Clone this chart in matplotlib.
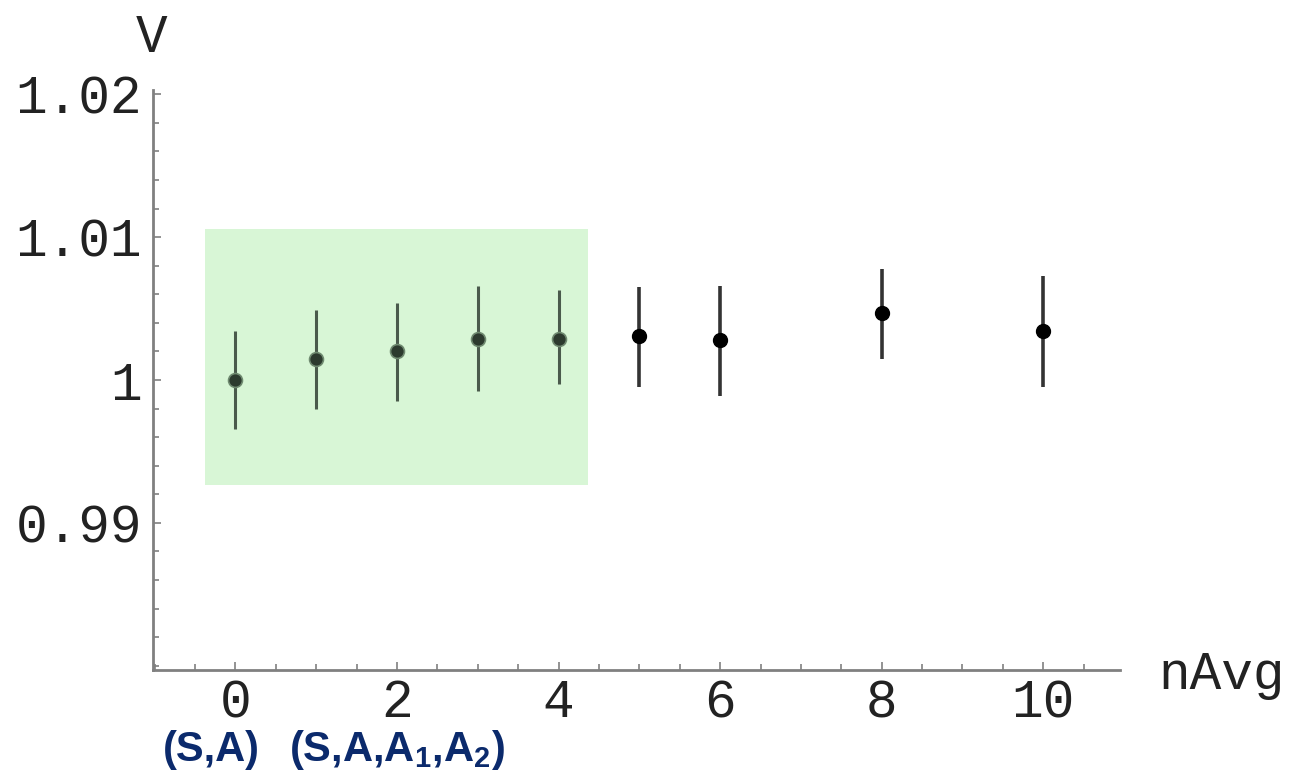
import matplotlib.pyplot as plt
import matplotlib.patches as mpatches
from matplotlib.ticker import MultipleLocator

plt.rcParams['mathtext.fontset'] = 'custom'
plt.rcParams['mathtext.rm'] = 'Liberation Sans:bold'
plt.rcParams['mathtext.bf'] = 'Liberation Sans:bold'

# data
n_avg = [0, 1, 2, 3, 4, 5, 6, 8, 10]
v = [1.0000, 1.0015, 1.0020, 1.0029, 1.0029, 1.0031, 1.0028, 1.0047, 1.0034]
err_up = [0.0034, 0.0034, 0.0034, 0.0037, 0.0034, 0.0034, 0.0038, 0.0031, 0.0039]
err_lo = [0.0034, 0.0035, 0.0035, 0.0037, 0.0032, 0.0036, 0.0039, 0.0032, 0.0039]
n_green = 5   # first five points sit in the shaded box

box_x = (-0.38, 4.36)
box_y = (0.99266, 1.0106)

bottom_labels = ['(S,A)', r'(S,A,A$_{1}$,A$_{2}$)']
bottom_x = [211, 397]   # pixel centres

fig = plt.figure(figsize=(12.97, 7.73), dpi=100)
ax = fig.add_axes([153/1297, 1-670/773, (1120-153)/1297, (670-90)/773])

ax.add_patch(mpatches.Rectangle((box_x[0], box_y[0]), box_x[1]-box_x[0], box_y[1]-box_y[0],
                                facecolor='#d8f6d6', edgecolor='none', zorder=0))

# green-box points
ax.errorbar(n_avg[:n_green], v[:n_green], yerr=[err_lo[:n_green], err_up[:n_green]],
            fmt='o', ms=10, color='#4a5a4c', mfc='#2c3a2e', mec='#6f8a70', mew=1.2,
            elinewidth=2.2, capsize=0, zorder=3)
# the rest
ax.errorbar(n_avg[n_green:], v[n_green:], yerr=[err_lo[n_green:], err_up[n_green:]],
            fmt='o', ms=10, color='black', ecolor='#333333',
            elinewidth=2.6, capsize=0, zorder=3)

ax.set_xlim(-1.02, 10.95)
ax.set_ylim(0.9797, 1.0203)

for s in ['top', 'right']:
    ax.spines[s].set_visible(False)
for s in ['left', 'bottom']:
    ax.spines[s].set_color('#808080')
    ax.spines[s].set_linewidth(2)

ax.xaxis.set_major_locator(MultipleLocator(2))
ax.xaxis.set_minor_locator(MultipleLocator(0.5))
ax.yaxis.set_major_locator(MultipleLocator(0.01))
ax.yaxis.set_minor_locator(MultipleLocator(0.002))
ax.tick_params(which='both', direction='in', color='#808080', width=1.2,
               labelsize=38, labelcolor='#222222')
ax.tick_params(which='major', length=6)
ax.tick_params(which='minor', length=4)
ax.tick_params(axis='x', pad=6)
ax.tick_params(axis='y', pad=8)
ax.set_yticks([0.99, 1.0, 1.01, 1.02])
ax.set_yticklabels(['0.99', '1', '1.01', '1.02'])
for lab in ax.get_xticklabels() + ax.get_yticklabels():
    lab.set_family('Liberation Mono')

fig.text(152/1297, 1-38/773, 'V', family='Liberation Mono', fontsize=38,
         color='#222222', ha='center', va='center')
fig.text(1158/1297, 1-675/773, 'nAvg', family='Liberation Mono', fontsize=38,
         color='#222222', ha='left', va='center')

for lab, px in zip(bottom_labels, bottom_x):
    fig.text(px/1297, 1-750/773, lab, family='Liberation Sans', weight='bold',
             fontsize=30, color='#0b2a6c', ha='center', va='center')

fig.savefig('out.png', dpi=100, facecolor='white')
